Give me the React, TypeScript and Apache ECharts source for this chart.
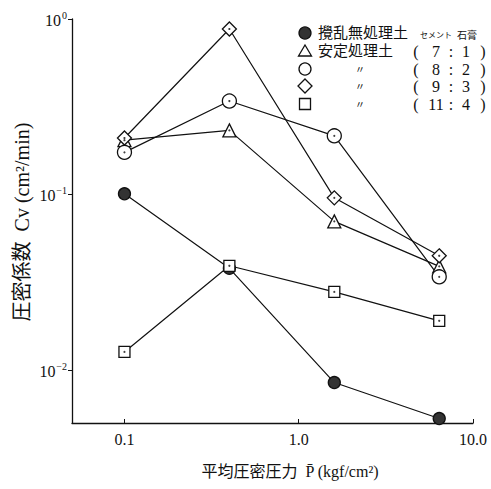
import React, { useEffect, useRef } from "react";
import * as echarts from "echarts";

// Mean consolidation pressure P (kgf/cm²)
const pressure = [0.1, 0.4, 1.6, 6.4];

// Coefficient of consolidation Cv (cm²/min)
const cvUntreated = [0.101, 0.038, 0.0085, 0.0053];
const cv7to1 = [0.204, 0.232, 0.0704, 0.039];
const cv8to2 = [0.174, 0.341, 0.216, 0.034];
const cv9to3 = [0.21, 0.877, 0.0958, 0.0448];
const cv11to4 = [0.0127, 0.0393, 0.0279, 0.0191];

// Axis ticks
const xTickValues = [0.1, 1, 10];
const xTickLabels = ["0.1", "1.0", "10.0"];
const yTickValues = [0.01, 0.1, 1];

// Legend entries: label, cement : gypsum ratio
const legendLabels = ["攪乱無処理土", "安定処理土", "〃", "〃", "〃"];
const cementParts = ["", "7", "8", "9", "11"];
const gypsumParts = ["", "1", "2", "3", "4"];

const SERIF = "'Liberation Serif', 'DejaVu Serif', 'Noto Sans CJK JP', serif";
const INK = "#111";

type Sym = "filled" | "triangle" | "circle" | "diamond" | "square";
const seriesDefs: { name: string; data: number[]; sym: Sym }[] = [
  { name: "攪乱無処理土", data: cvUntreated, sym: "filled" },
  { name: "安定処理土 7:1", data: cv7to1, sym: "triangle" },
  { name: "安定処理土 8:2", data: cv8to2, sym: "circle" },
  { name: "安定処理土 9:3", data: cv9to3, sym: "diamond" },
  { name: "安定処理土 11:4", data: cv11to4, sym: "square" },
];

const symbolOf: Record<Sym, string> = {
  filled: "circle",
  triangle: "triangle",
  circle: "circle",
  diamond: "diamond",
  square: "rect",
};
const sizeOf: Record<Sym, number> = {
  filled: 12,
  triangle: 13,
  circle: 14,
  diamond: 14,
  square: 11,
};

function legendSymbol(sym: Sym, cx: number, cy: number): any {
  const style = { fill: sym === "filled" ? "#333" : "#fff", stroke: INK, lineWidth: 1.3 };
  if (sym === "filled" || sym === "circle") {
    return { type: "circle", shape: { cx, cy, r: 6 }, style };
  }
  if (sym === "triangle") {
    return { type: "polygon", shape: { points: [[cx, cy - 6], [cx + 6.5, cy + 5], [cx - 6.5, cy + 5]] }, style };
  }
  if (sym === "diamond") {
    return { type: "polygon", shape: { points: [[cx, cy - 7], [cx + 7, cy], [cx, cy + 7], [cx - 7, cy]] }, style };
  }
  return { type: "rect", shape: { x: cx - 5.5, y: cy - 5.5, width: 11, height: 11 }, style };
}

export default function App() {
  const ref = useRef<HTMLDivElement>(null);

  useEffect(() => {
    if (!ref.current) return;
    const chart = echarts.init(ref.current, null, { renderer: "svg" });

    const lineSeries = seriesDefs.map((d) => ({
      type: "line",
      name: d.name,
      data: pressure.map((p, i) => [p, d.data[i]]),
      symbol: symbolOf[d.sym],
      symbolSize: sizeOf[d.sym],
      showAllSymbol: true,
      lineStyle: { color: INK, width: 1.2 },
      itemStyle: {
        color: d.sym === "filled" ? "#333" : "#fff",
        borderColor: INK,
        borderWidth: 1.3,
      },
      z: 2,
    }));

    // centre dots of the hollow markers
    const dotSeries = seriesDefs
      .filter((d) => d.sym !== "filled")
      .map((d) => ({
        type: "scatter",
        name: d.name + " dot",
        data: pressure.map((p, i) => [p, d.data[i]]),
        symbol: "circle",
        symbolSize: 2.2,
        itemStyle: { color: INK },
        z: 3,
      }));

    const rows = [33, 51, 69, 86, 104];
    const legendGraphics: any[] = [];
    seriesDefs.forEach((d, i) => {
      const y = rows[i];
      legendGraphics.push(legendSymbol(d.sym, 305, y));
      const isDitto = legendLabels[i] === "〃";
      legendGraphics.push({
        type: "text",
        x: isDitto ? 360 : 318,
        y,
        style: {
          text: legendLabels[i],
          font: `${isDitto ? 10 : 15}px ${SERIF}`,
          fill: INK,
          align: isDitto ? "center" : "left",
          verticalAlign: "middle",
        },
      });
      if (cementParts[i]) {
        const pieces: [string, number][] = [
          ["(", 416],
          [cementParts[i], 436],
          [":", 451],
          [gypsumParts[i], 466],
          [")", 483],
        ];
        pieces.forEach(([t, x]) =>
          legendGraphics.push({
            type: "text",
            x,
            y,
            style: {
              text: t,
              font: `16px ${SERIF}`,
              fill: INK,
              align: "center",
              verticalAlign: "middle",
            },
          })
        );
      }
    });
    legendGraphics.push(
      {
        type: "text",
        x: 436,
        y: 35,
        style: { text: "セメント", font: `8px ${SERIF}`, fill: INK, align: "center", verticalAlign: "middle" },
      },
      {
        type: "text",
        x: 467,
        y: 35,
        style: { text: "石膏", font: `10px ${SERIF}`, fill: INK, align: "center", verticalAlign: "middle" },
      }
    );

    const option: any = {
      animation: false,
      backgroundColor: "#fff",
      grid: { left: 72, top: 19, right: 18, bottom: 66 },
      xAxis: {
        type: "log",
        logBase: 10,
        min: 0.05,
        max: 10,
        axisLine: { show: true, lineStyle: { color: INK, width: 1.3 } },
        axisTick: { show: true, inside: true, length: 4, customValues: xTickValues, lineStyle: { color: INK } },
        axisLabel: {
          customValues: xTickValues,
          formatter: (v: number) => {
            const k = xTickValues.findIndex((t) => Math.abs(t - v) / t < 1e-6);
            return k >= 0 ? xTickLabels[k] : "";
          },
          color: INK,
          fontFamily: SERIF,
          fontSize: 16,
          margin: 8,
        },
        splitLine: { show: false },
      },
      yAxis: {
        type: "log",
        logBase: 10,
        min: 0.005,
        max: 1,
        axisLine: { show: true, lineStyle: { color: INK, width: 1.3 } },
        axisTick: { show: true, length: 4, customValues: yTickValues, lineStyle: { color: INK } },
        axisLabel: {
          customValues: yTickValues,
          formatter: (v: number) => {
            const e = Math.round(Math.log10(v));
            return `{b|10}{s|${e === 0 ? "0" : "−" + -e}}`;
          },
          margin: 5,
          rich: {
            b: { fontFamily: SERIF, fontSize: 16, color: INK, lineHeight: 18, verticalAlign: "bottom" },
            s: { fontFamily: SERIF, fontSize: 10, color: INK, lineHeight: 18, verticalAlign: "top", padding: [0, 0, 8, 1] },
          },
        },
        splitLine: { show: false },
      },
      graphic: [
        {
          type: "text",
          x: 22,
          y: 222,
          rotation: Math.PI / 2,
          style: {
            text: "圧密係数  Cv (cm²/min)",
            font: `20px ${SERIF}`,
            fill: INK,
            align: "center",
            verticalAlign: "middle",
          },
        },
        {
          type: "text",
          x: 290,
          y: 471,
          style: {
            text: "平均圧密圧力  P\u0304 (kgf/cm²)",
            font: `16px ${SERIF}`,
            fill: INK,
            align: "center",
            verticalAlign: "middle",
          },
        },
        ...legendGraphics,
      ],
      series: [...lineSeries, ...dotSeries],
    };

    chart.setOption(option);
    return () => chart.dispose();
  }, []);

  return (
    <div
      ref={ref}
      style={{ position: "absolute", left: 0, top: 0, width: 491, height: 489, background: "#fff" }}
    />
  );
}
